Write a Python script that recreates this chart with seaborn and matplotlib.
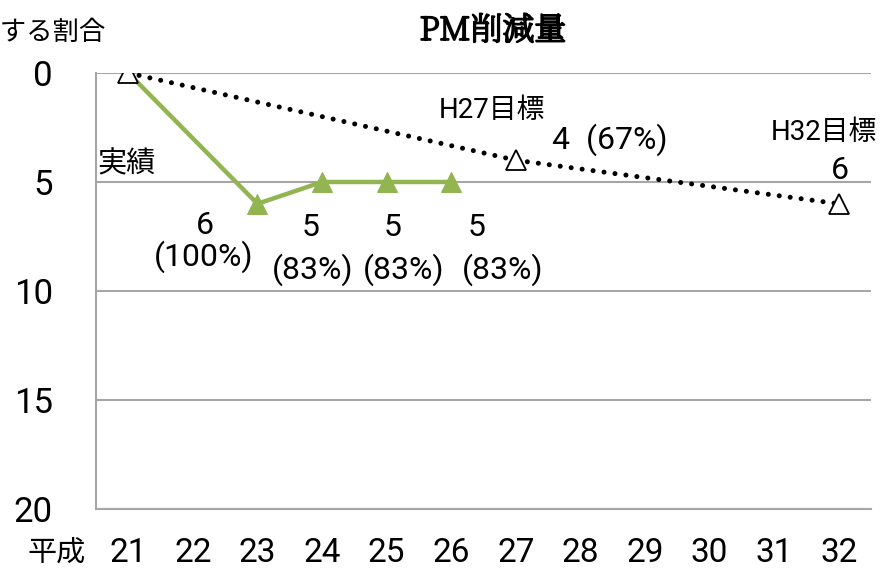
import matplotlib
matplotlib.use("Agg")
import matplotlib.pyplot as plt
import matplotlib.patheffects as pe
import seaborn as sns
import pandas as pd
import numpy as np

# ---- data ----
years = ["21", "22", "23", "24", "25", "26", "27", "28", "29", "30", "31", "32"]
actual_years = ["21", "23", "24", "25", "26"]
actual_values = [0, 6, 5, 5, 5]
actual_labels_num = ["6", "5", "5", "5"]
actual_labels_pct = ["(100%)", "(83%)", "(83%)", "(83%)"]
target_years = ["21", "27", "32"]
target_values = [0, 4, 6]
yticks = [0, 5, 10, 15, 20]

sns.set_style("white")
NUM = ["Roboto", "Noto Sans CJK JP", "DejaVu Sans"]
CJK = ["Noto Sans CJK JP", "DejaVu Sans"]
plt.rcParams["font.family"] = NUM
plt.rcParams["text.color"] = "black"
plt.rcParams["xtick.color"] = "black"
plt.rcParams["ytick.color"] = "black"

fig = plt.figure(figsize=(8.84, 5.72), dpi=100)
W, H = 884, 572
ax = fig.add_axes([96 / W, 1 - 509 / H, (871 - 96) / W, (509 - 73) / H])

idx = {y: i for i, y in enumerate(years)}
df_a = pd.DataFrame({"x": [idx[y] for y in actual_years], "v": actual_values})
df_t = pd.DataFrame({"x": [idx[y] for y in target_years], "v": target_values})

green = "#92b552"
sns.lineplot(data=df_a, x="x", y="v", ax=ax, color=green, lw=3.2,
             marker="^", markersize=15, markeredgecolor=green,
             markerfacecolor=green, markevery=list(range(1, len(df_a))), zorder=3)
sns.lineplot(data=df_t, x="x", y="v", ax=ax, color="black", lw=3.6,
             linestyle=(0, (0.01, 2.2)), dash_capstyle="round",
             marker="^", markersize=14, markerfacecolor="white",
             markeredgecolor="black", markeredgewidth=1.3, zorder=4)

ax.set_xlim(-0.5, len(years) - 0.5)
ax.set_ylim(20, 0)
ax.set_yticks(yticks)
ax.set_yticklabels([str(v) for v in yticks], fontsize=25)
ax.tick_params(axis="y", length=0, pad=31, labelcolor="black")
ax.yaxis.grid(True, color="#a6a6a6", lw=1.5)
ax.set_axisbelow(True)

ax.set_xticks(np.arange(-0.5, len(years), 1.0))
ax.set_xticklabels([])
ax.set_xticks(np.arange(len(years)), minor=True)
ax.set_xticklabels(years, minor=True, fontsize=24)
ax.tick_params(axis="x", which="major", direction="in", length=7, width=1.2,
               color="#a6a6a6")
ax.tick_params(axis="x", which="minor", length=0, pad=20, labelcolor="black")
ax.set_xlabel("")
ax.set_ylabel("")

for s in ["top", "right"]:
    ax.spines[s].set_visible(False)
for s in ["left", "bottom"]:
    ax.spines[s].set_color("#a6a6a6")
    ax.spines[s].set_linewidth(1.5)

# ---- texts ----
fig.text(493 / W, 1 - 31 / H, "PM削減量", ha="center", va="center",
         fontsize=23, fontweight="bold", family=["Noto Serif JP", "DejaVu Serif"],
         path_effects=[pe.withStroke(linewidth=1.3, foreground="black")])
fig.text(106 / W, 1 - 32 / H, "削減する割合", ha="right", va="center",
         fontsize=19, family=CJK)
fig.text(57 / W, 1 - 553 / H, "平成", ha="center", va="center",
         fontsize=21, family=CJK)

ax.text(-0.48, 4.2, "実績", ha="left", va="center", fontsize=21, family=CJK)
num_pos = [(1.19, 7.0), (2.82, 7.1), (4.10, 7.1), (5.39, 7.1)]
pct_pos = [(1.16, 8.44), (2.85, 9.04), (4.27, 9.04), (5.79, 9.04)]
for (x, y), t in zip(num_pos, actual_labels_num):
    ax.text(x, y, t, ha="center", va="center", fontsize=23)
for (x, y), t in zip(pct_pos, actual_labels_pct):
    ax.text(x, y, t, ha="center", va="center", fontsize=23)

ax.text(5.63, 1.7, "H27目標", ha="center", va="center", fontsize=20)
ax.text(7.46, 3.07, "4  (67%)", ha="center", va="center", fontsize=23)
ax.text(10.77, 2.75, "H32目標", ha="center", va="center", fontsize=20)
ax.text(11.02, 4.45, "6", ha="center", va="center", fontsize=23)

fig.savefig("out.png", dpi=100)
